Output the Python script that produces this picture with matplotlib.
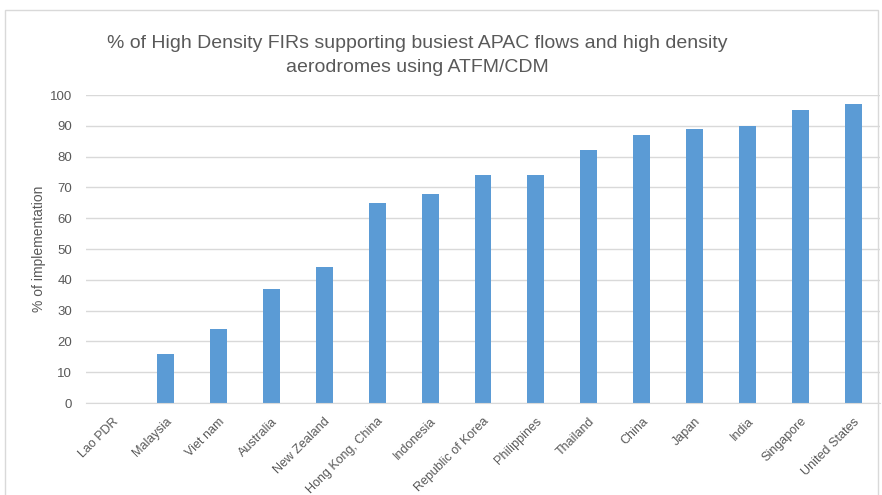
import matplotlib.pyplot as plt
from matplotlib.patches import Rectangle

countries = ['Lao PDR', 'Malaysia', 'Viet nam', 'Australia', 'New Zealand',
             'Hong Kong, China', 'Indonesia', 'Republic of Korea', 'Philippines',
             'Thailand', 'China', 'Japan', 'India', 'Singapore', 'United States']
implementation = [0, 16, 24, 37, 44, 65, 68, 74, 74, 82, 87, 89, 90, 95, 97]
yticks = [0, 10, 20, 30, 40, 50, 60, 70, 80, 90, 100]

plt.rcParams['font.family'] = ['Liberation Sans', 'DejaVu Sans']
txt = '#595959'

fig = plt.figure(figsize=(8.82, 4.95), dpi=100)
# outer chart border
fig.patches.append(Rectangle((5 / 882, -0.01), 873 / 882, 1 - 10 / 495 + 0.01,
                             transform=fig.transFigure, fill=False,
                             edgecolor='#d9d9d9', linewidth=1))

ax = fig.add_axes([86 / 882, 1 - 403 / 495, 794 / 882, 308 / 495])
x = range(len(countries))
ax.bar(x, implementation, width=0.32, color='#5b9bd5', zorder=3)

ax.set_xlim(-0.5, len(countries) - 0.5)
ax.set_ylim(0, 100)
ax.set_yticks(yticks)
ax.set_xticks(list(x))
ax.set_xticklabels(countries, rotation=45, ha='right', rotation_mode='anchor',
                   fontsize=9, color=txt)
ax.tick_params(axis='y', labelsize=9.5, labelcolor=txt, length=0, pad=10)
ax.tick_params(axis='x', length=0, pad=9)
ax.grid(axis='y', color='#d9d9d9', linewidth=1, zorder=0)
for s in ['top', 'right', 'left']:
    ax.spines[s].set_visible(False)
ax.spines['bottom'].set_color('#d9d9d9')
ax.spines['bottom'].set_zorder(4)

ax.set_ylabel('% of implementation', fontsize=10, color=txt)
ax.yaxis.set_label_coords(-40 / 794, 0.5)

fig.text(417 / 882, 1 - 43 / 495,
         '% of High Density FIRs supporting busiest APAC flows and high density',
         ha='center', va='center', fontsize=14, color=txt)
fig.text(417 / 882, 1 - 68 / 495, 'aerodromes using ATFM/CDM',
         ha='center', va='center', fontsize=14, color=txt)

fig.savefig('out.png', dpi=100)
